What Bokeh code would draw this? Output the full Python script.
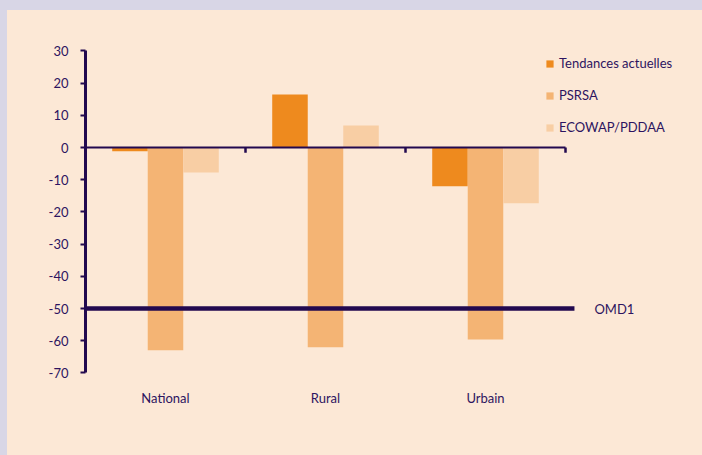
from bokeh.plotting import figure
from bokeh.models import (Range1d, FixedTicker, Legend, LegendItem, ColumnDataSource)
from bokeh.core.properties import value
from bokeh.embed import file_html
from bokeh.resources import INLINE

# ---- data ----
categories = ["National", "Rural", "Urbain"]
series_names = ["Tendances actuelles", "PSRSA", "ECOWAP/PDDAA"]
tendances = [-1.2, 16.5, -12.0]
psrsa = [-63.0, -62.0, -59.6]
ecowap = [-7.8, 6.8, -17.3]
y_ticks = [30, 20, 10, 0, -10, -20, -30, -40, -50, -60, -70]
y_tick_labels = ["30", "20", "10", "0", "-10", "-20", "-30", "-40", "-50", "-60", "-70"]
omd_label = "OMD1"
omd_value = -50

# ---- style ----
BG = "#fce8d6"
PAGE = "#d8d6e6"
AXIS = "#22094f"
TEXT = "#2d1460"
COLORS = ["#ee8a1e", "#f4b474", "#f8cea4"]
FONT = "Lato"

n = len(categories)
px_per_unit = 160.0
frame_left = 78
fig_w, fig_h = 695, 445
frame_w = fig_w - frame_left

p = figure(width=fig_w, height=fig_h, output_backend="svg", toolbar_location=None,
           x_range=Range1d(0, frame_w / px_per_unit),
           y_range=Range1d(-72.36, 42.55),
           min_border_left=frame_left, min_border_right=0, min_border_top=0,
           min_border_bottom=75)
p.background_fill_alpha = 0
p.border_fill_alpha = 0
p.outline_line_color = None
p.grid.visible = False

# y axis
ya = p.yaxis[0]
ya.ticker = FixedTicker(ticks=y_ticks)
ya.major_label_overrides = {t: s for t, s in zip(y_ticks, y_tick_labels)}
ya.bounds = (min(y_ticks), max(y_ticks))
ya.axis_line_color = AXIS
ya.axis_line_width = 3
ya.major_tick_line_color = AXIS
ya.major_tick_line_width = 2
ya.major_tick_out = 5
ya.major_tick_in = 0
ya.minor_tick_line_color = None
ya.major_label_standoff = 12
ya.major_label_text_font = FONT
ya.major_label_text_font_size = "13px"
ya.major_label_text_color = TEXT

# x axis: category labels only
xa = p.xaxis[0]
centers = [i + 0.5 for i in range(n)]
xa.ticker = FixedTicker(ticks=centers)
xa.major_label_overrides = {c: lab for c, lab in zip(centers, categories)}
xa.axis_line_color = None
xa.major_tick_line_color = None
xa.minor_tick_line_color = None
xa.major_tick_out = 0
xa.major_label_standoff = 9
xa.major_label_text_font = FONT
xa.major_label_text_font_size = "13px"
xa.major_label_text_color = TEXT

# bars
bw = 0.222
offsets = [-bw, 0.0, bw]
renderers = []
for vals, off, col in zip([tendances, psrsa, ecowap], offsets, COLORS):
    src = ColumnDataSource(dict(x=[c + off for c in centers], top=vals, bottom=[0] * n))
    r = p.vbar(x="x", top="top", bottom="bottom", width=bw, source=src,
               fill_color=col, line_color=None)
    renderers.append(r)

# zero baseline with category-boundary ticks
p.segment(x0=[0], y0=[0], x1=[n], y1=[0], line_color=AXIS, line_width=2)
p.segment(x0=list(range(1, n + 1)), y0=[0] * n, x1=list(range(1, n + 1)), y1=[-1.6] * n,
          line_color=AXIS, line_width=2.5)

# OMD1 target line
omd_end = n + 0.056
p.line(x=[0, omd_end], y=[omd_value, omd_value], line_color=AXIS, line_width=4.5)
p.text(x=[omd_end], y=[omd_value], text=[omd_label], x_offset=20,
       text_baseline="middle", text_align="left", text_font=value(FONT),
       text_font_size="13px", text_color=TEXT)

# legend
legend = Legend(items=[LegendItem(label=s, renderers=[r]) for s, r in zip(series_names, renderers)],
                location=(460, 243), glyph_width=9, glyph_height=9, label_standoff=5,
                label_height=20, spacing=12, padding=0, margin=0,
                border_line_color=None, background_fill_alpha=0,
                label_text_font=FONT, label_text_font_size="13px", label_text_color=TEXT)
p.add_layout(legend, "center")

html = file_html(p, INLINE)
page_css = ("<style>html { background-color: %s !important; } "
            "body { background-color: %s !important; border-top: 10px solid %s; "
            "border-left: 7px solid %s; padding: 0 !important; box-sizing: border-box; "
            "overflow: hidden; }</style>" % (BG, BG, PAGE, PAGE))
html = html.replace("</head>", page_css + "\n</head>", 1)
open("out.html", "w").write(html)
